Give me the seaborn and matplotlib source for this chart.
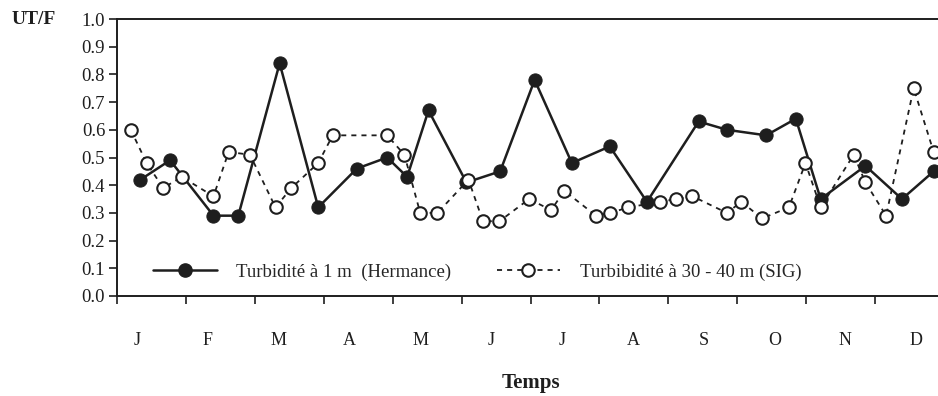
import matplotlib
matplotlib.use("Agg")
import matplotlib.pyplot as plt
import seaborn as sns
import pandas as pd
import numpy as np
from matplotlib.lines import Line2D

# Sampling dates expressed in months since 1 January, with turbidity (UT/F)
hermance_t = [0.34, 0.77, 1.40, 1.76, 2.36, 2.92, 3.48, 3.92, 4.21, 4.52, 5.07, 5.56,
              6.06, 6.60, 7.15, 7.69, 8.44, 8.85, 9.42, 9.85, 10.21, 10.86, 11.39, 11.85]
hermance_v = [0.42, 0.49, 0.29, 0.29, 0.84, 0.32, 0.46, 0.50, 0.43, 0.67, 0.41, 0.45,
              0.78, 0.48, 0.54, 0.34, 0.63, 0.60, 0.58, 0.64, 0.35, 0.47, 0.35, 0.45]

sig_t = [0.20, 0.43, 0.67, 0.94, 1.40, 1.62, 1.93, 2.30, 2.53, 2.92, 3.13, 3.92,
         4.17, 4.40, 4.65, 5.10, 5.31, 5.55, 5.98, 6.30, 6.49, 6.95, 7.16, 7.42,
         7.88, 8.11, 8.35, 8.85, 9.06, 9.36, 9.75, 9.99, 10.21, 10.69, 10.86, 11.16,
         11.56, 11.85]
sig_v = [0.60, 0.48, 0.39, 0.43, 0.36, 0.52, 0.51, 0.32, 0.39, 0.48, 0.58, 0.58,
         0.51, 0.30, 0.30, 0.42, 0.27, 0.27, 0.35, 0.31, 0.38, 0.29, 0.30, 0.32,
         0.34, 0.35, 0.36, 0.30, 0.34, 0.28, 0.32, 0.48, 0.32, 0.51, 0.41, 0.29,
         0.75, 0.52]

months = ["J", "F", "M", "A", "M", "J", "J", "A", "S", "O", "N", "D"]
y_ticks = [0.0, 0.1, 0.2, 0.3, 0.4, 0.5, 0.6, 0.7, 0.8, 0.9, 1.0]

label_hermance = "Turbidité à 1 m  (Hermance)"
label_sig = "Turbibidité à 30 - 40 m (SIG)"

sns.set_theme(style="ticks")
plt.rcParams["font.family"] = ["Liberation Serif", "DejaVu Serif"]
plt.rcParams["font.size"] = 13

df_h = pd.DataFrame({"t": hermance_t, "v": hermance_v})
df_s = pd.DataFrame({"t": sig_t, "v": sig_v})

W, H = 938, 396
fig = plt.figure(figsize=(W / 100, H / 100), dpi=100)
ax_left, ax_right, ax_top, ax_bottom = 117, 944, 19, 296
ax = fig.add_axes([ax_left / W, 1 - ax_bottom / H,
                   (ax_right - ax_left) / W, (ax_bottom - ax_top) / H])

ink = "#1e1e1e"
dash = (0, (2.8, 2.8))

sns.lineplot(data=df_h, x="t", y="v", ax=ax, sort=False, color=ink,
             linewidth=1.8, marker="o", markersize=9.5, markerfacecolor=ink,
             markeredgecolor=ink, zorder=3)
sns.lineplot(data=df_s, x="t", y="v", ax=ax, sort=False, color=ink,
             linewidth=1.3, linestyle=dash, marker="o", markersize=9,
             markerfacecolor="white", markeredgecolor=ink, markeredgewidth=1.5,
             zorder=4)

ax.set_xlim(0, 12)
ax.set_ylim(0, 1.0)

# Month boundaries as ticks, month initials as labels
ax.set_xticks(np.arange(0, 13))
ax.set_xticklabels([])
label_pos = [0.29 + i * 1.028 for i in range(len(months))]
ax.set_xticks(label_pos, minor=True)
ax.set_xticklabels(months, minor=True, fontsize=13, color=ink)
ax.tick_params(axis="x", which="major", direction="out", length=6, width=1.2, color=ink)
ax.tick_params(axis="x", which="minor", length=0, pad=26)

ax.set_yticks(y_ticks)
ax.set_yticklabels([f"{v:.1f}" for v in y_ticks], fontsize=13.5, color=ink)
ax.tick_params(axis="y", direction="out", length=6, width=1.2, color=ink, pad=2.5)

for side in ["left", "top", "bottom"]:
    ax.spines[side].set_visible(True)
    ax.spines[side].set_color(ink)
    ax.spines[side].set_linewidth(1.4)
ax.spines["right"].set_visible(False)

ax.set_xlabel("Temps", fontsize=15, fontweight="bold", color=ink, labelpad=17.5)
ax.set_ylabel("")
fig.text(12 / W, 1 - 19 / H, "UT/F", fontsize=14, fontweight="bold", color=ink,
         ha="left", va="center")

handles = [
    Line2D([], [], color=ink, linewidth=1.8, marker="o", markersize=9.5,
           markerfacecolor=ink, markeredgecolor=ink),
    Line2D([], [], color=ink, linewidth=1.3, linestyle=dash, marker="o",
           markersize=9, markerfacecolor="white", markeredgecolor=ink,
           markeredgewidth=1.5),
]
ax.legend(handles, [label_hermance, label_sig], ncol=2, frameon=False,
          loc="center left", bbox_to_anchor=((153 - ax_left) / (ax_right - ax_left),
                                             (ax_bottom - 272) / (ax_bottom - ax_top)),
          handlelength=3.4, handletextpad=1.05, columnspacing=2.4, fontsize=13.5,
          borderaxespad=0, borderpad=0)

fig.savefig("out.png", dpi=100)
